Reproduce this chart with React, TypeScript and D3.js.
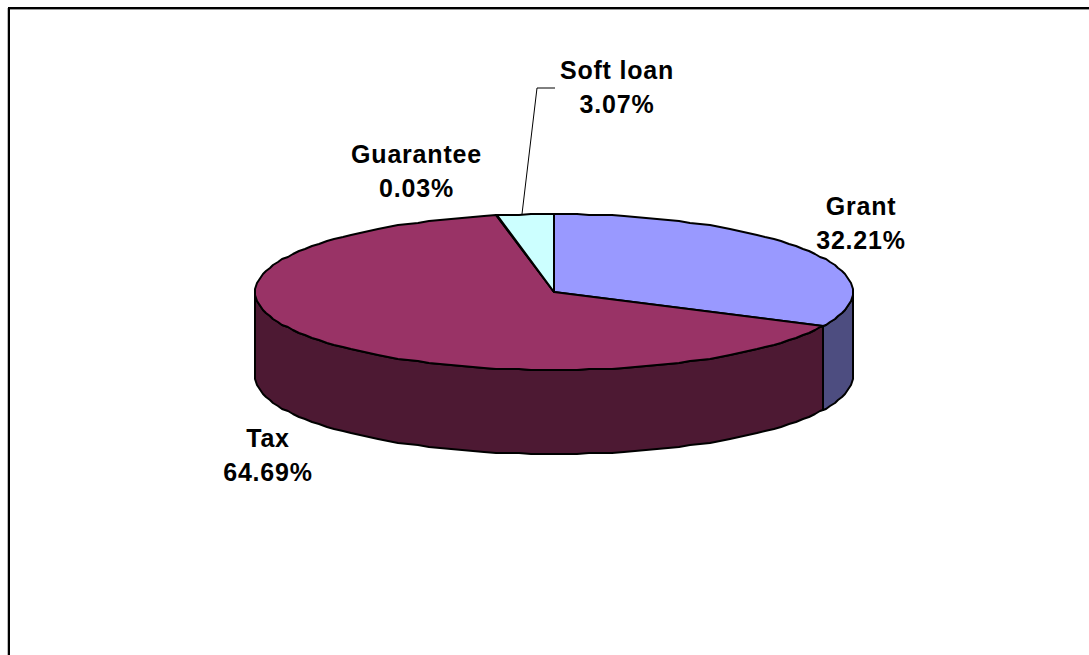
import React from "react";
import * as d3 from "d3";

// Share of support by instrument, in percent, clockwise from twelve o'clock.
const categories = ["Grant", "Tax", "Guarantee", "Soft loan"];
const shares = [32.21, 64.69, 0.03, 3.07];
const topColors = ["#9999FF", "#993366", "#FFFFCC", "#CCFFFF"];
const sideColors = ["#4D4D80", "#4D1933", "#80806A", "#668080"];
const labelAnchors: [number, number][] = [
  [861, 215],
  [268, 447],
  [416.5, 163],
  [617, 78.5],
];

const WIDTH = 1089;
const HEIGHT = 655;
const DEPTH = 84;
const LINE_GAP = 34;
const STEP = Math.PI / 80; // the rim is a coarse polyline snapped to whole pixels

const x = d3.scaleLinear().domain([-1, 1]).range([255, 853]);
const y = d3.scaleLinear().domain([-1, 1]).range([214, 370]);

const pie = d3
  .pie<number>()
  .sort(null)
  .startAngle(0)
  .endAngle(2 * Math.PI);

const rim = (a: number, drop = 0): [number, number] => [
  Math.round(x(Math.sin(a))),
  Math.round(y(-Math.cos(a))) + drop,
];

const anglesBetween = (a0: number, a1: number) => {
  const out = d3.range(Math.ceil(a0 / STEP), Math.floor(a1 / STEP) + 1).map((i) => i * STEP);
  if (!out.length || out[0] !== a0) out.unshift(a0);
  if (out[out.length - 1] !== a1) out.push(a1);
  return out;
};

const path = d3.line();

const topPath = (a0: number, a1: number) =>
  path([[x(0), y(0)], ...anglesBetween(a0, a1).map((a) => rim(a))])! + "Z";

const sidePath = (a0: number, a1: number) => {
  const as = anglesBetween(a0, a1);
  return (
    path([
      ...as.map((a) => rim(a)),
      ...as
        .slice()
        .reverse()
        .map((a) => rim(a, DEPTH)),
    ])! + "Z"
  );
};

export default function App() {
  const arcs = pie(shares);
  const leaderTop = 88;
  const leaderFoot = rim(arcs[3].startAngle + 0.085);
  return (
    <svg
      width={WIDTH}
      height={HEIGHT}
      viewBox={`0 0 ${WIDTH} ${HEIGHT}`}
      style={{ position: "absolute", left: 0, top: 0, display: "block", background: "#fff" }}
    >
      {/* Chart frame, open on the right and bottom, with its soft grey edge */}
      <path d={path([[7.5, HEIGHT], [7.5, 8]])!} fill="none" stroke="#bbb" strokeWidth={1} />
      <path d={path([[8, 9.5], [WIDTH, 9.5]])!} fill="none" stroke="#999" strokeWidth={1} />
      <path d={path([[9, HEIGHT], [9, 8], [WIDTH, 8]])!} fill="none" stroke="#000" strokeWidth={2} />

      {/* Wall of the disc: only the front half, angles between 90° and 270°, shows */}
      <g stroke="#000" strokeWidth={2} strokeLinejoin="round">
        {arcs.map((d, i) => {
          const a0 = Math.max(d.startAngle, Math.PI / 2);
          const a1 = Math.min(d.endAngle, (3 * Math.PI) / 2);
          return a1 > a0 ? <path key={i} d={sidePath(a0, a1)} fill={sideColors[i]} /> : null;
        })}
        {arcs.map((d, i) => (
          <path key={i} d={topPath(d.startAngle, d.endAngle)} fill={topColors[i]} />
        ))}
      </g>

      <path
        d={path([[leaderFoot[0], leaderFoot[1]], [537, leaderTop], [555, leaderTop]])!}
        fill="none"
        stroke="#000"
        strokeWidth={1}
      />

      <g
        fontFamily="Liberation Sans, Arial, sans-serif"
        fontWeight="bold"
        fontSize={25}
        letterSpacing={0.8}
        fill="#000"
        textAnchor="middle"
      >
        {categories.map((c, i) => (
          <text key={c} x={labelAnchors[i][0]} y={labelAnchors[i][1]}>
            <tspan x={labelAnchors[i][0]}>{c}</tspan>
            <tspan x={labelAnchors[i][0]} dy={LINE_GAP}>
              {shares[i].toFixed(2)}%
            </tspan>
          </text>
        ))}
      </g>
    </svg>
  );
}
